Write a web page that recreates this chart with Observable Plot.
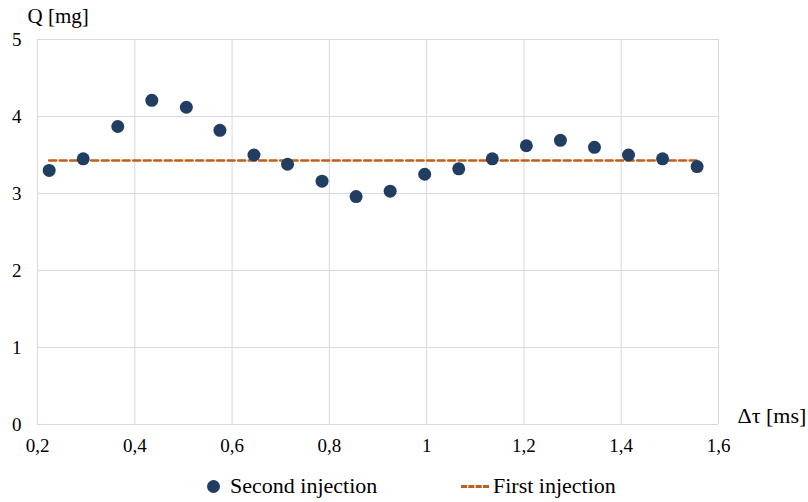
<!DOCTYPE html>
<html>
<head>
<meta charset="utf-8">
<script src="https://cdn.jsdelivr.net/npm/d3@7"></script>
<script src="https://cdn.jsdelivr.net/npm/@observablehq/plot@0.6"></script>
<style>
  html, body { margin: 0; padding: 0; background: #fff; }
  #wrap { position: relative; width: 808px; height: 502px; }
  #wrap, #wrap svg, #wrap svg text, .leg { font-family: "Liberation Serif", "DejaVu Serif", serif !important; }
  .leg { position: absolute; top: 473px; font-size: 22px; color: #000; display: flex; align-items: center; white-space: nowrap; }
  .dot { width: 13px; height: 13px; border-radius: 50%; background: #213d62; display: inline-block; margin-right: 10px; }
  .dash { width: 28px; height: 0; border-top: 3px dashed #bf5f1b; display: inline-block; margin-right: 4px; }
</style>
</head>
<body>
<div id="wrap"></div>
<script>
// Data
const dtau = [0.224, 0.294, 0.365, 0.435, 0.506, 0.575, 0.645, 0.714, 0.785, 0.855,
              0.925, 0.996, 1.066, 1.135, 1.205, 1.275, 1.345, 1.415, 1.485, 1.556];
const secondQ = [3.30, 3.45, 3.87, 4.21, 4.12, 3.82, 3.50, 3.38, 3.16, 2.96,
                 3.03, 3.25, 3.32, 3.45, 3.62, 3.69, 3.60, 3.50, 3.45, 3.35];
const firstQ = 3.43;
const xTicks = [0.2, 0.4, 0.6, 0.8, 1.0, 1.2, 1.4, 1.6];
const yTicks = [0, 1, 2, 3, 4, 5];
const xLabel = "Δτ [ms]";
const yLabel = "Q [mg]";
const seriesNames = ["Second injection", "First injection"];

const second = dtau.map((x, i) => ({x, q: secondQ[i]}));
const first = dtau.map(x => ({x, q: firstQ}));
const fmt = d => String(d).replace(".", ",");
const fmtY = d => String(d);

const chart = Plot.plot({
  width: 808,
  height: 470,
  marginTop: 39,
  marginLeft: 37,
  marginRight: 90,
  marginBottom: 46,
  style: {fontSize: "19px", color: "#000", background: "#fff"},
  x: {domain: [0.2, 1.6], ticks: xTicks, tickFormat: fmt},
  y: {domain: [0, 5], ticks: yTicks, tickFormat: fmtY},
  marks: [
    Plot.gridX(xTicks, {stroke: "#d9d9d9", strokeOpacity: 1}),
    Plot.gridY(yTicks, {stroke: "#d9d9d9", strokeOpacity: 1}),
    Plot.axisX(xTicks, {tickSize: 0, tickPadding: 14, tickFormat: fmt, label: null, fontSize: 19}),
    Plot.axisY(yTicks, {tickSize: 0, tickPadding: 16, tickFormat: fmtY, label: null, fontSize: 19}),
    Plot.lineY(first, {x: "x", y: "q", stroke: "#bf5f1b", strokeWidth: 2.5, strokeDasharray: "7,3.5"}),
    Plot.dot(second, {x: "x", y: "q", r: 6.5, fill: "#213d62", stroke: "none"}),
    Plot.text([yLabel], {frameAnchor: "top-left", textAnchor: "start", lineAnchor: "bottom", dx: -10, dy: -17, fontSize: 21}),
    Plot.text([xLabel], {frameAnchor: "bottom-right", textAnchor: "start", lineAnchor: "bottom", dx: 19, dy: -2, fontSize: 22})
  ]
});
const wrap = document.getElementById("wrap");
wrap.appendChild(chart);

const l1 = document.createElement("div");
l1.className = "leg";
l1.style.left = "207px";
l1.innerHTML = '<span class="dot"></span><span></span>';
l1.lastChild.textContent = seriesNames[0];
wrap.appendChild(l1);
const l2 = document.createElement("div");
l2.className = "leg";
l2.style.left = "461px";
l2.innerHTML = '<span class="dash"></span><span></span>';
l2.lastChild.textContent = seriesNames[1];
wrap.appendChild(l2);
</script>
</body>
</html>
